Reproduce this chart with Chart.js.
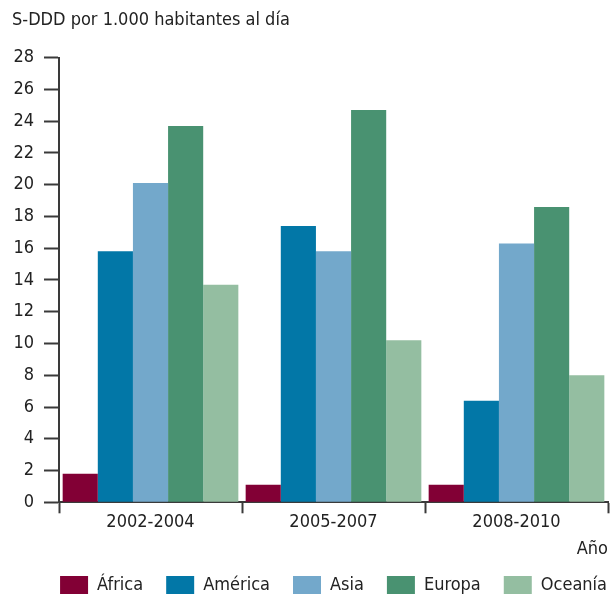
<!DOCTYPE html>
<html>
<head>
<meta charset="utf-8">
<script src="https://cdn.jsdelivr.net/npm/chart.js@4"></script>
<style>
  html, body { margin: 0; padding: 0; background: #fff; }
  #wrap { width: 614px; height: 598px; }
</style>
</head>
<body>
<div id="wrap"><canvas id="myChart" width="614" height="598"></canvas></div>
<script>
const periodos = ['2002-2004', '2005-2007', '2008-2010']
const africa = [1.8, 1.1, 1.1]
const america = [15.8, 17.4, 6.4]
const asia = [20.1, 15.8, 16.3]
const europa = [23.7, 24.7, 18.6]
const oceania = [13.7, 10.2, 8.0]
const regiones = ['África', 'América', 'Asia', 'Europa', 'Oceanía']
const colores = ['#820035', '#0277a7', '#73a8cb', '#499271', '#94bea1']

const fuente = "'DejaVu Sans Condensed', 'DejaVu Sans', sans-serif"
const gris = '#222'
const lineas = '#3a3a3a'

const series = [africa, america, asia, europa, oceania]

// la leyenda va algo mas a la derecha y mas arriba que donde la pone chart.js
const moverLeyenda = {
    id: 'moverLeyenda',
    afterLayout(chart) {
        const ley = chart.legend
        ley.left += 22
        ley.right += 22
        ley.top -= 6
        ley.bottom -= 6
    }
}

const myChart = document.getElementById('myChart')
new Chart(myChart, {
    type: 'bar',
    data: {
        labels: periodos,
        datasets: series.map((valores, i) => ({
            label: regiones[i],
            data: valores,
            backgroundColor: colores[i],
            borderWidth: 0,
            categoryPercentage: 0.96,
            barPercentage: 1
        }))
    },
    plugins: [moverLeyenda],
    options: {
        responsive: false,
        animation: false,
        layout: { padding: { left: 12, right: 6, top: 10, bottom: -12 } },
        plugins: {
            tooltip: { enabled: false },
            title: {
                display: true,
                text: 'S-DDD por 1.000 habitantes al día',
                align: 'start',
                color: gris,
                font: { family: fuente, size: 18, weight: 'normal' },
                padding: { top: 0, bottom: 26 }
            },
            legend: {
                position: 'bottom',
                align: 'end',
                labels: {
                    color: gris,
                    font: { family: fuente, size: 18, lineHeight: 1 },
                    boxWidth: 28,
                    boxHeight: 18,
                    padding: 23
                }
            }
        },
        scales: {
            x: {
                grid: {
                    drawOnChartArea: false,
                    drawTicks: true,
                    tickLength: 11,
                    tickWidth: 2,
                    tickColor: lineas
                },
                border: { color: lineas, width: 2 },
                ticks: { color: gris, font: { family: fuente, size: 18, lineHeight: 1.05 }, padding: 0 },
                title: {
                    display: true,
                    text: 'Año',
                    align: 'end',
                    color: gris,
                    font: { family: fuente, size: 18, lineHeight: 1.1 },
                    padding: { top: 7, bottom: 0 }
                }
            },
            y: {
                min: 0,
                max: 28,
                afterFit(escala) {
                    escala.width = 47
                },
                ticks: {
                    stepSize: 2,
                    color: gris,
                    font: { family: fuente, size: 18 },
                    padding: 10
                },
                grid: {
                    drawOnChartArea: false,
                    drawTicks: true,
                    tickLength: 15,
                    tickWidth: 2,
                    tickColor: lineas
                },
                border: { color: lineas, width: 2 }
            }
        }
    }
});
</script>
</body>
</html>
